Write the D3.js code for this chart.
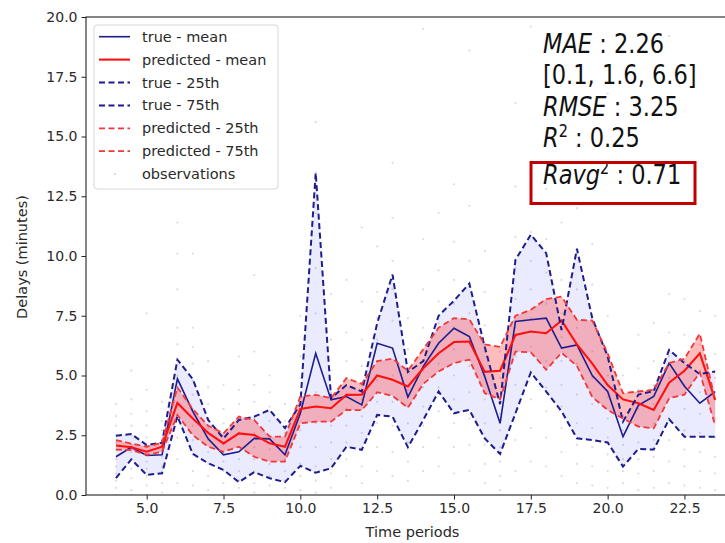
<!DOCTYPE html>
<html>
<head>
<meta charset="utf-8">
<script src="https://cdn.jsdelivr.net/npm/d3@7"></script>
<style>
  html, body { margin: 0; padding: 0; background: #fff; }
  svg { display: block; font-family: "DejaVu Sans", sans-serif; }
</style>
</head>
<body>
<svg id="chart" width="725" height="543"></svg>
<script>
// Time periods (half-hour steps)
const periods = [4, 4.5, 5, 5.5, 6, 6.5, 7, 7.5, 8, 8.5, 9, 9.5, 10, 10.5, 11, 11.5, 12, 12.5, 13, 13.5,
                 14, 14.5, 15, 15.5, 16, 16.5, 17, 17.5, 18, 18.5, 19, 19.5, 20, 20.5, 21, 21.5, 22, 22.5, 23, 23.5];

const trueMean = [1.6, 2.0, 1.65, 1.68, 4.86, 3.5, 2.35, 1.68, 1.81, 2.37, 2.35, 1.68, 3.42, 5.93, 3.98, 4.12, 3.77, 6.35, 6.15, 4.1,
                  5.38, 6.35, 6.98, 6.63, 4.96, 3.0, 7.26, 7.33, 7.4, 6.15, 6.28, 5.0, 4.33, 2.44, 3.75, 4.12, 5.52, 4.55, 3.84, 4.33];
const true25 = [0.71, 1.49, 0.84, 0.91, 3.3, 1.72, 1.33, 1.05, 0.54, 0.96, 0.7, 0.54, 1.22, 0.93, 1.12, 2.02, 1.89, 3.35, 3.28, 2.0,
                3.14, 4.33, 3.42, 3.56, 2.37, 1.72, 3.42, 5.13, 4.33, 3.5, 2.37, 2.3, 2.2, 1.19, 1.93, 1.9, 3.17, 2.44, 2.44, 2.44];
const true75 = [2.48, 2.55, 2.09, 2.19, 5.66, 4.85, 3.14, 2.37, 3.14, 3.28, 3.56, 2.8, 3.8, 13.48, 4.05, 4.6, 4.33, 7.19, 9.22, 5.15,
                5.6, 7.5, 8.13, 8.85, 6.2, 3.8, 9.84, 10.89, 10.12, 6.9, 10.3, 7.4, 5.8, 3.07, 4.2, 4.35, 6.07, 5.52, 5.06, 5.17];
const predMean = [2.07, 2.0, 1.81, 2.02, 3.85, 3.2, 2.6, 2.16, 2.58, 2.51, 2.16, 2.02, 3.6, 3.7, 3.63, 4.19, 4.2, 5.0, 4.82, 4.54,
                  5.3, 5.93, 6.4, 6.42, 5.15, 5.2, 6.7, 6.84, 6.77, 7.3, 6.3, 5.5, 4.6, 4.0, 3.84, 3.56, 4.7, 5.2, 5.93, 3.98];
const pred25 = [1.9, 1.88, 1.68, 1.81, 3.35, 2.5, 2.02, 1.81, 2.02, 1.6, 1.4, 1.4, 3.0, 3.07, 3.07, 3.56, 3.55, 4.3, 4.15, 3.65,
                4.65, 5.17, 5.52, 5.66, 4.26, 4.0, 6.0, 5.97, 5.24, 5.95, 5.4, 4.1, 3.56, 3.2, 2.86, 2.79, 4.05, 4.2, 5.13, 2.9];
const pred75 = [2.3, 2.15, 2.02, 2.19, 4.5, 3.6, 2.9, 2.58, 3.28, 3.14, 2.44, 2.44, 4.12, 4.19, 4.05, 4.89, 4.65, 5.6, 5.7, 5.2,
                6.1, 7.0, 7.4, 7.35, 6.3, 6.2, 7.5, 7.75, 8.2, 8.3, 7.33, 7.3, 5.93, 4.26, 4.33, 4.4, 5.52, 5.7, 6.75, 3.98];

// Individual delay observations, one list per time period
const observations = [
  [0, 0.3, 0.6, 0.9, 1.2, 1.5, 1.9, 2.2, 2.5, 2.9, 3.3, 3.8],
  [0.2, 0.7, 1.1, 1.5, 1.8, 2.1, 2.5, 2.9, 3.4, 4.0, 5.2],
  [0, 0.4, 0.8, 1.1, 1.4, 1.7, 2.0, 2.4, 2.9, 3.5, 4.4, 7.6],
  [0.1, 0.5, 0.9, 1.2, 1.6, 1.9, 2.2, 2.7, 3.1, 3.9],
  [0.5, 1.5, 2.4, 3.2, 3.8, 4.4, 5.0, 5.6, 6.3, 7.0, 8.6, 10.1, 11.4],
  [0.4, 1.0, 1.7, 2.3, 2.9, 3.6, 4.2, 4.8, 5.5, 6.2, 7.0, 10.1],
  [0.2, 0.8, 1.3, 1.8, 2.3, 2.8, 3.2, 3.8, 4.5, 5.6],
  [0, 0.5, 1.0, 1.4, 1.8, 2.1, 2.5, 3.0, 3.6, 4.6],
  [0, 0.3, 0.6, 1.0, 1.5, 2.0, 2.6, 3.2, 3.8, 4.4, 5.8],
  [0.1, 0.5, 1.0, 1.5, 2.0, 2.6, 3.2, 3.9, 4.6, 6.0, 9.2],
  [0, 0.4, 0.8, 1.3, 1.9, 2.5, 3.1, 3.7, 4.3, 5.0],
  [0, 0.3, 0.6, 1.0, 1.5, 2.0, 2.6, 3.1, 3.8],
  [0.2, 0.8, 1.3, 2.0, 2.7, 3.4, 4.1, 4.9, 5.8, 7.5],
  [0.1, 0.6, 1.2, 2.0, 3.0, 4.3, 5.8, 7.6, 9.5, 11.8, 13.5, 15.6],
  [0.3, 0.9, 1.5, 2.2, 2.9, 3.6, 4.3, 5.2, 6.5, 8.4],
  [0.8, 1.5, 2.2, 2.9, 3.6, 4.2, 4.9, 5.6, 6.8, 9.0],
  [0.5, 1.2, 1.9, 2.6, 3.3, 4.0, 4.6, 5.4, 6.5, 8.1, 11.2],
  [1.0, 2.0, 3.0, 3.9, 4.8, 5.6, 6.5, 7.4, 8.5, 10.4],
  [0.8, 1.8, 2.9, 3.9, 5.0, 6.1, 7.3, 8.6, 9.8, 11.6, 13.9],
  [0.6, 1.4, 2.2, 3.0, 3.7, 4.4, 5.2, 6.1, 7.4],
  [1.0, 2.0, 2.9, 3.7, 4.5, 5.2, 6.0, 7.0, 8.6, 10.7, 19.5],
  [1.2, 2.4, 3.5, 4.5, 5.5, 6.4, 7.2, 8.1, 9.4, 11.8],
  [0.9, 2.0, 3.0, 4.0, 5.0, 6.1, 7.0, 8.0, 9.0, 10.6, 13.0],
  [1.0, 2.1, 3.2, 4.3, 5.4, 6.5, 7.6, 8.7, 9.8, 12.1, 18.6],
  [0.5, 1.3, 2.1, 3.0, 4.0, 5.0, 6.0, 7.1, 8.5, 10.2],
  [0.2, 0.8, 1.4, 2.0, 2.7, 3.4, 4.0, 4.9, 6.0],
  [1.0, 2.3, 3.4, 4.6, 5.8, 7.0, 8.2, 9.5, 10.8, 12.9, 16.4],
  [1.4, 2.8, 4.0, 5.1, 6.2, 7.4, 8.6, 9.8, 11.0, 12.4, 19.6],
  [1.2, 2.4, 3.5, 4.5, 5.6, 6.8, 8.0, 9.3, 10.7, 12.8, 15.2],
  [0.8, 1.8, 2.8, 3.7, 4.6, 5.6, 6.6, 7.6, 9.0, 11.4],
  [0.5, 1.3, 2.1, 3.0, 4.2, 5.5, 7.0, 8.6, 10.3, 12.0, 14.6],
  [0.4, 1.2, 2.0, 2.8, 3.8, 4.9, 6.0, 7.3, 8.8, 10.5],
  [0.3, 1.0, 1.7, 2.4, 3.2, 4.1, 5.0, 6.0, 7.5, 16.8],
  [0, 0.5, 1.0, 1.5, 2.1, 2.7, 3.3, 4.0, 5.0],
  [0.2, 0.9, 1.5, 2.2, 2.9, 3.6, 4.4, 5.3, 6.7],
  [0.3, 1.0, 1.6, 2.3, 3.0, 3.8, 4.6, 5.6, 7.2],
  [0.5, 1.4, 2.3, 3.2, 4.0, 4.9, 5.8, 6.8, 8.4, 19.2],
  [0.4, 1.2, 1.9, 2.7, 3.6, 4.6, 5.6, 6.7, 8.2],
  [0.3, 1.0, 1.8, 2.6, 3.4, 4.3, 5.2, 6.3, 7.7],
  [0.2, 0.9, 1.6, 2.4, 3.2, 4.0, 4.9, 5.9, 7.5]
];

const xTicks = [5.0, 7.5, 10.0, 12.5, 15.0, 17.5, 20.0, 22.5];
const yTicks = [0.0, 2.5, 5.0, 7.5, 10.0, 12.5, 15.0, 17.5, 20.0];

const legendItems = [
  { label: "true - mean", kind: "trueSolid" },
  { label: "predicted - mean", kind: "predSolid" },
  { label: "true - 25th", kind: "trueDash" },
  { label: "true - 75th", kind: "trueDash" },
  { label: "predicted - 25th", kind: "predDash" },
  { label: "predicted - 75th", kind: "predDash" },
  { label: "observations", kind: "obs" }
];

// ---- styling ----
const BLUE = "#1d1d8e";
const RED = "#ff1010";
const RED_DASH = "#f03a3a";
const DASH = "6,3.5";

const svg = d3.select("#chart");
const plotLeft = 86, plotTop = 17, plotBottom = 495;
const pxPerUnit = 30.73;
const xMin = 3.025, xMax = 24.475;

const x = d3.scaleLinear().domain([xMin, xMax]).range([plotLeft, plotLeft + (xMax - xMin) * pxPerUnit]);
const y = d3.scaleLinear().domain([0, 20]).range([plotBottom, plotTop]);
const plotRight = x(xMax);

svg.append("defs").append("clipPath").attr("id", "plotClip")
  .append("rect").attr("x", plotLeft).attr("y", plotTop)
  .attr("width", plotRight - plotLeft).attr("height", plotBottom - plotTop);

const plot = svg.append("g").attr("clip-path", "url(#plotClip)");

// observations
const obsPoints = [];
observations.forEach((vals, i) => vals.forEach(v => obsPoints.push([periods[i], v])));
plot.append("g").selectAll("circle").data(obsPoints).join("circle")
  .attr("cx", d => x(d[0])).attr("cy", d => y(d[1])).attr("r", 1.1)
  .attr("fill", "#9a9a9a").attr("fill-opacity", 0.35);

const idx = d3.range(periods.length);
const band = (lo, hi) => d3.area().x(i => x(periods[i])).y0(i => y(lo[i])).y1(i => y(hi[i]));
const line = arr => d3.line().x(i => x(periods[i])).y(i => y(arr[i]));

plot.append("path").attr("d", band(true25, true75)(idx))
  .attr("fill", "#3b3bff").attr("fill-opacity", 0.1);
plot.append("path").attr("d", band(pred25, pred75)(idx))
  .attr("fill", "#ff2020").attr("fill-opacity", 0.3);

plot.append("path").attr("d", line(trueMean)(idx)).attr("fill", "none")
  .attr("stroke", BLUE).attr("stroke-width", 1.6);
plot.append("path").attr("d", line(predMean)(idx)).attr("fill", "none")
  .attr("stroke", RED).attr("stroke-width", 2.1);
[true25, true75].forEach(arr => plot.append("path").attr("d", line(arr)(idx)).attr("fill", "none")
  .attr("stroke", BLUE).attr("stroke-width", 2).attr("stroke-dasharray", DASH));
[pred25, pred75].forEach(arr => plot.append("path").attr("d", line(arr)(idx)).attr("fill", "none")
  .attr("stroke", RED_DASH).attr("stroke-width", 1.8).attr("stroke-dasharray", DASH));

// axes
const yAxis = svg.append("g").attr("transform", `translate(${plotLeft},0)`)
  .call(d3.axisLeft(y).tickValues(yTicks).tickFormat(d3.format(".1f")).tickSize(4.5).tickPadding(4));
const xAxis = svg.append("g").attr("transform", `translate(0,${plotBottom})`)
  .call(d3.axisBottom(x).tickValues(xTicks).tickFormat(d3.format(".1f")).tickSize(4.5).tickPadding(4));
[yAxis, xAxis].forEach(a => {
  a.select(".domain").remove();
  a.selectAll(".tick line").attr("stroke", "#222").attr("stroke-width", 1);
  a.selectAll(".tick text").attr("fill", "#2a2a2a").style("font-size", "14px")
    .style("font-family", "'DejaVu Sans', sans-serif");
});

// spines
svg.append("rect").attr("x", plotLeft).attr("y", plotTop)
  .attr("width", plotRight - plotLeft).attr("height", plotBottom - plotTop)
  .attr("fill", "none").attr("stroke", "#222").attr("stroke-width", 1.1);

// axis titles
svg.append("text").attr("x", (plotLeft + 745) / 2 - 3).attr("y", 537).attr("text-anchor", "middle")
  .attr("fill", "#2a2a2a").style("font-size", "14.5px").text("Time periods");
svg.append("text").attr("transform", "translate(27,257) rotate(-90)").attr("text-anchor", "middle")
  .attr("fill", "#2a2a2a").style("font-size", "14.5px").text("Delays (minutes)");

// legend
const lg = svg.append("g");
lg.append("rect").attr("x", 94).attr("y", 25).attr("width", 184).attr("height", 164).attr("rx", 3)
  .attr("fill", "#fff").attr("fill-opacity", 0.85).attr("stroke", "#d6d6d6").attr("stroke-width", 1);
legendItems.forEach((item, i) => {
  const cy = 36.7 + i * 22.9;
  if (item.kind === "obs") {
    lg.append("circle").attr("cx", 115).attr("cy", cy).attr("r", 1.1).attr("fill", "#9a9a9a").attr("fill-opacity", 0.4);
  } else {
    const isTrue = item.kind.startsWith("true");
    const dashed = item.kind.endsWith("Dash");
    lg.append("line").attr("x1", 99).attr("x2", 130).attr("y1", cy).attr("y2", cy)
      .attr("stroke", isTrue ? BLUE : (dashed ? RED_DASH : RED))
      .attr("stroke-width", isTrue ? (dashed ? 2 : 1.6) : (dashed ? 1.8 : 2.1))
      .attr("stroke-dasharray", dashed ? DASH : null);
  }
  lg.append("text").attr("x", 142).attr("y", cy + 5).attr("fill", "#2a2a2a")
    .style("font-size", "14.5px").text(item.label);
});

// metrics annotation
const metrics = [
  { name: "MAE", sup: null, value: "2.26", y: 53 },
  { name: null, sup: null, value: "[0.1, 1.6, 6.6]", y: 84 },
  { name: "RMSE", sup: null, value: "3.25", y: 116 },
  { name: "R", sup: "2", value: "0.25", y: 147 },
  { name: "Ravg", sup: "2", value: "0.71", y: 184 }
];
const ann = svg.append("g").attr("transform", "translate(543,0) scale(0.85,1)");
metrics.forEach(m => {
  const t = ann.append("text").attr("x", 0).attr("y", m.y).attr("fill", "#111").style("font-size", "26.5px");
  if (m.name) {
    t.append("tspan").style("font-style", "italic").text(m.name);
    if (m.sup) t.append("tspan").attr("dy", -10).style("font-size", "17px").text(m.sup);
    t.append("tspan").attr("dy", m.sup ? 10 : 0).text(" : " + m.value);
  } else {
    t.text(m.value);
  }
});
svg.append("rect").attr("x", 531).attr("y", 162.5).attr("width", 164).attr("height", 41)
  .attr("fill", "none").attr("stroke", "#c00000").attr("stroke-width", 3);
</script>
</body>
</html>
